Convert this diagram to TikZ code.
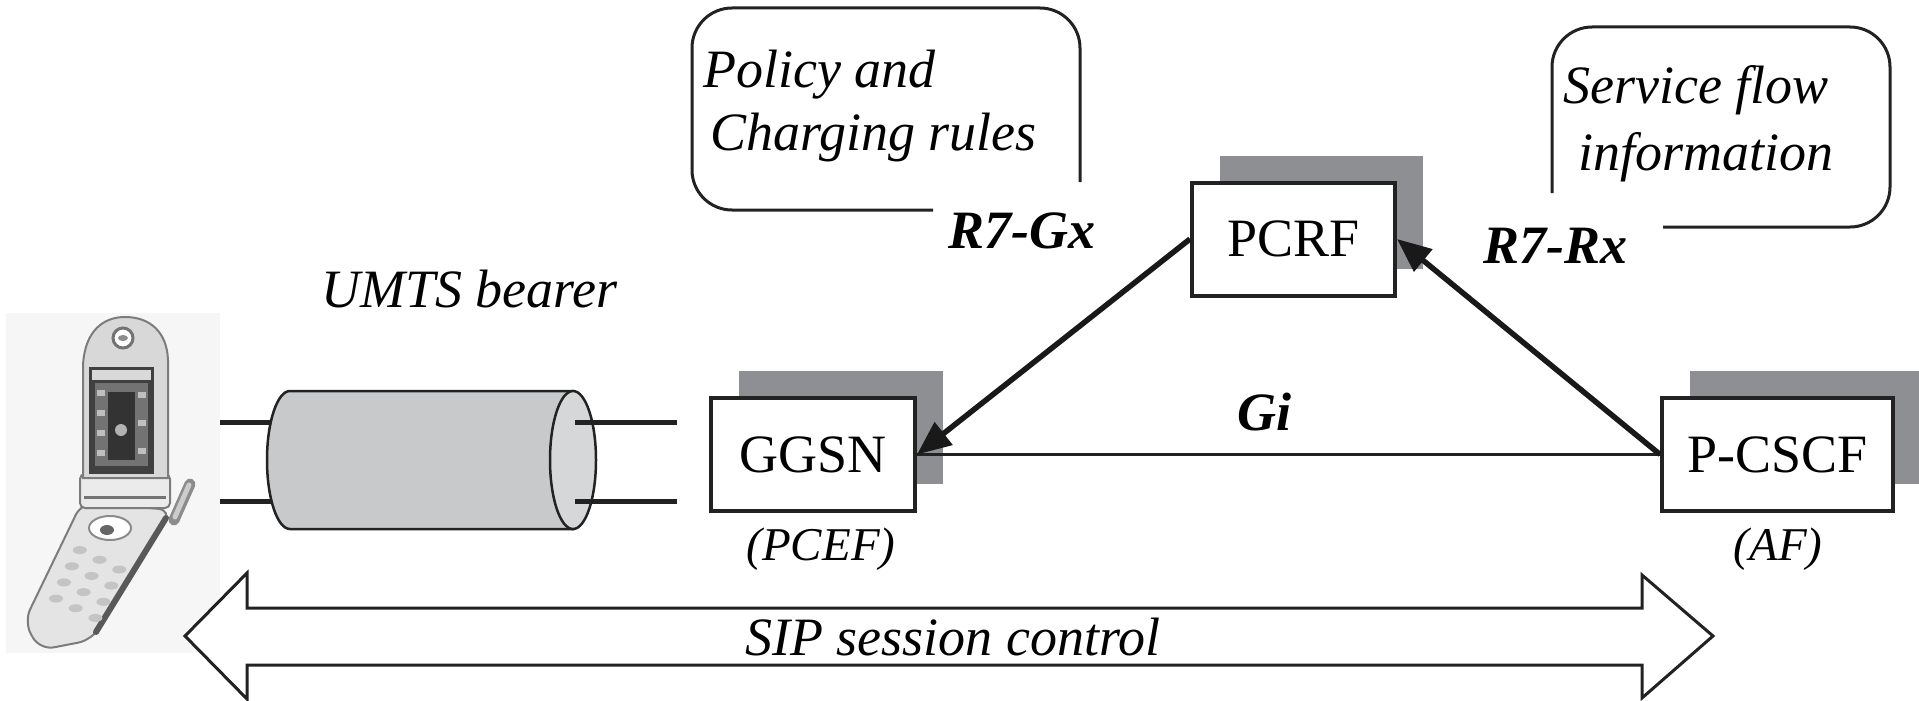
\documentclass[tikz,border=0pt]{standalone}
\usepackage{fontspec}
\setmainfont{Liberation Serif}
\usetikzlibrary{arrows.meta,shadows,calc}
\definecolor{shadowgray}{HTML}{8E8F92}
\definecolor{tubegray}{HTML}{C8C9CB}
\definecolor{tubeend}{HTML}{D6D7D9}
\definecolor{inkline}{HTML}{222222}
\definecolor{photobg}{HTML}{F6F6F6}
\definecolor{lidgray}{HTML}{D8D8D8}
\definecolor{bodygray}{HTML}{E4E4E4}
\definecolor{edgegray}{HTML}{7C7C7C}
\definecolor{keygray}{HTML}{C4C4C4}
\newcommand\labelsize{\fontsize{54}{62}\selectfont}
\newcommand\notesize{\fontsize{47}{54}\selectfont}

\begin{document}
\begin{tikzpicture}[x=1pt,y=-1pt,
  netbox/.style={draw=inkline, line width=4pt, fill=white, minimum height=113pt,
    inner sep=0pt, font=\labelsize,
    general shadow={fill=shadowgray, shadow xshift=28pt, shadow yshift=27pt}},
  txt/.style={inner sep=0pt, anchor=base west, font=\labelsize\itshape},
  boldtxt/.style={inner sep=0pt, anchor=base west, font=\labelsize\bfseries\itshape},
  roletxt/.style={inner sep=0pt, anchor=base, font=\notesize\itshape},
  callout/.style={draw=inkline, line width=3pt, rounded corners=40pt},
  refline/.style={draw=black!90, line width=5.5pt, -{Triangle[length=34pt,width=28pt]}},
  giline/.style={draw=inkline, line width=2.5pt},
  stub/.style={draw=inkline, line width=5pt},
  phonekey/.style={fill=keygray}]
\useasboundingbox (0,0) rectangle (1919,701);

% ---------- handset ----------
\fill[photobg] (6,313) rectangle (220,653);
% keypad half
\draw[fill=bodygray, draw=edgegray, line width=2pt, rounded corners=14pt]
  (82,502) -- (172,510) -- (92,640) -- (40,650) -- (24,622) -- cycle;
\draw[draw=black!65, line width=6pt, line cap=round] (166,518) -- (96,632);
% antenna stub
\draw[draw=black!45, line width=11pt, line cap=round] (190,484) -- (174,520);
\draw[draw=black!20, line width=5pt, line cap=round] (189,485) -- (175,517);
% navigation pad
\draw[fill=white, draw=black!45, line width=2pt] (110,528) ellipse (21 and 12);
\fill[black!60] (107,530) ellipse (7 and 5);
% keys
\foreach \s in {60,78,96,114}
  \foreach \w in {-22,0,22}
    \fill[phonekey] ($(126,506)+\s*(-0.441,0.897)+\w*(0.897,0.441)$) ellipse (7 and 4);
% hinge
\draw[fill=black!8, draw=edgegray, line width=2pt, rounded corners=5pt] (80,474) rectangle (170,508);
\draw[draw=black!55, line width=3pt] (84,497) -- (166,497);
% lid
\draw[fill=lidgray, draw=edgegray, line width=2pt]
  (83,478) -- (83,365) .. controls (85,330) and (104,317) .. (125,317)
  .. controls (150,317) and (167,332) .. (168,360) -- (168,478) -- cycle;
\draw[line width=3pt, draw=black!55, fill=white] (123,338) circle (10);
\fill[black!45] (123,338) ellipse (5 and 3);
% display
\fill[black!75] (89,367) rectangle (154,474);
\fill[black!15] (92,370) rectangle (151,380);
\fill[black!55] (95,383) rectangle (148,466);
\fill[black!80] (108,392) rectangle (135,460);
\foreach \yy in {390,410,430,450}
  \fill[black!25] (97,\yy) rectangle (105,\yy+6);
\foreach \yy in {392,420,448}
  \fill[black!25] (138,\yy) rectangle (146,\yy+6);
\fill[black!30] (121,430) circle (6);

% ---------- bearer tube ----------
\coordinate (tubeL1) at (271,422);
\coordinate (tubeL2) at (271,501);
\coordinate (tubeR1) at (575,422);
\coordinate (tubeR2) at (575,501);
\coordinate (lineL1) at (220,422);
\coordinate (lineL2) at (220,501);
\coordinate (lineR1) at (677,422);
\coordinate (lineR2) at (677,501);
\draw[stub] (lineL1) -- (tubeL1);
\draw[stub] (lineL2) -- (tubeL2);
\draw[fill=tubegray, draw=inkline, line width=2.5pt]
  (290,391) -- (573,391) -- (573,529) -- (290,529)
  arc[start angle=90, end angle=270, x radius=23, y radius=69] -- cycle;
\draw[fill=tubeend, draw=inkline, line width=2.5pt] (573,460) ellipse (23 and 69);
\draw[stub] (tubeR1) -- (lineR1);
\draw[stub] (tubeR2) -- (lineR2);
\node[txt] (umts) at (321,307) {UMTS bearer};

% ---------- network elements ----------
\node[netbox, minimum width=204pt] (ggsn) at (813,454.5) {GGSN};
\node[netbox, minimum width=203pt] (pcrf) at (1293.5,239) {PCRF};
\node[netbox, minimum width=231pt] (pcscf) at (1777.5,454.5) {P-CSCF};
\node[roletxt] (pcef) at (821,560) {(PCEF)};
\node[roletxt] (af) at (1778,560) {(AF)};

\draw[giline] (ggsn.east) -- (pcscf.west);
\draw[refline] (pcrf.west) -- (ggsn.east);
\draw[refline] (pcscf.west) -- (pcrf.east);
\node[boldtxt] (gi) at (1237,430) {Gi};
\node[boldtxt] (gx) at (948,248) {R7-Gx};
\node[boldtxt] (rx) at (1483,263) {R7-Rx};

% ---------- callouts ----------
\draw[callout] (933,210) -- (692,210) -- (692,8) -- (1080,8) -- (1080,182);
\node[txt] (pol1) at (703,88) {Policy and};
\node[txt] (pol2) at (710,150) {Charging rules};
\draw[callout] (1552,193) -- (1552,27) -- (1890,27) -- (1890,227) -- (1663,227);
\node[txt] (svc1) at (1563,103) {Service flow};
\node[txt] (svc2) at (1578,170) {information};

% ---------- SIP session arrow ----------
\draw[draw=inkline, fill=white, line width=3pt, line join=miter]
  (185,636) -- (247,573) -- (247,608) -- (1642,608) -- (1642,575) -- (1713,636)
  -- (1642,698) -- (1642,665) -- (247,665) -- (247,699) -- cycle;
\node[txt] (sip) at (745,655) {SIP session control};
\end{tikzpicture}
\end{document}
